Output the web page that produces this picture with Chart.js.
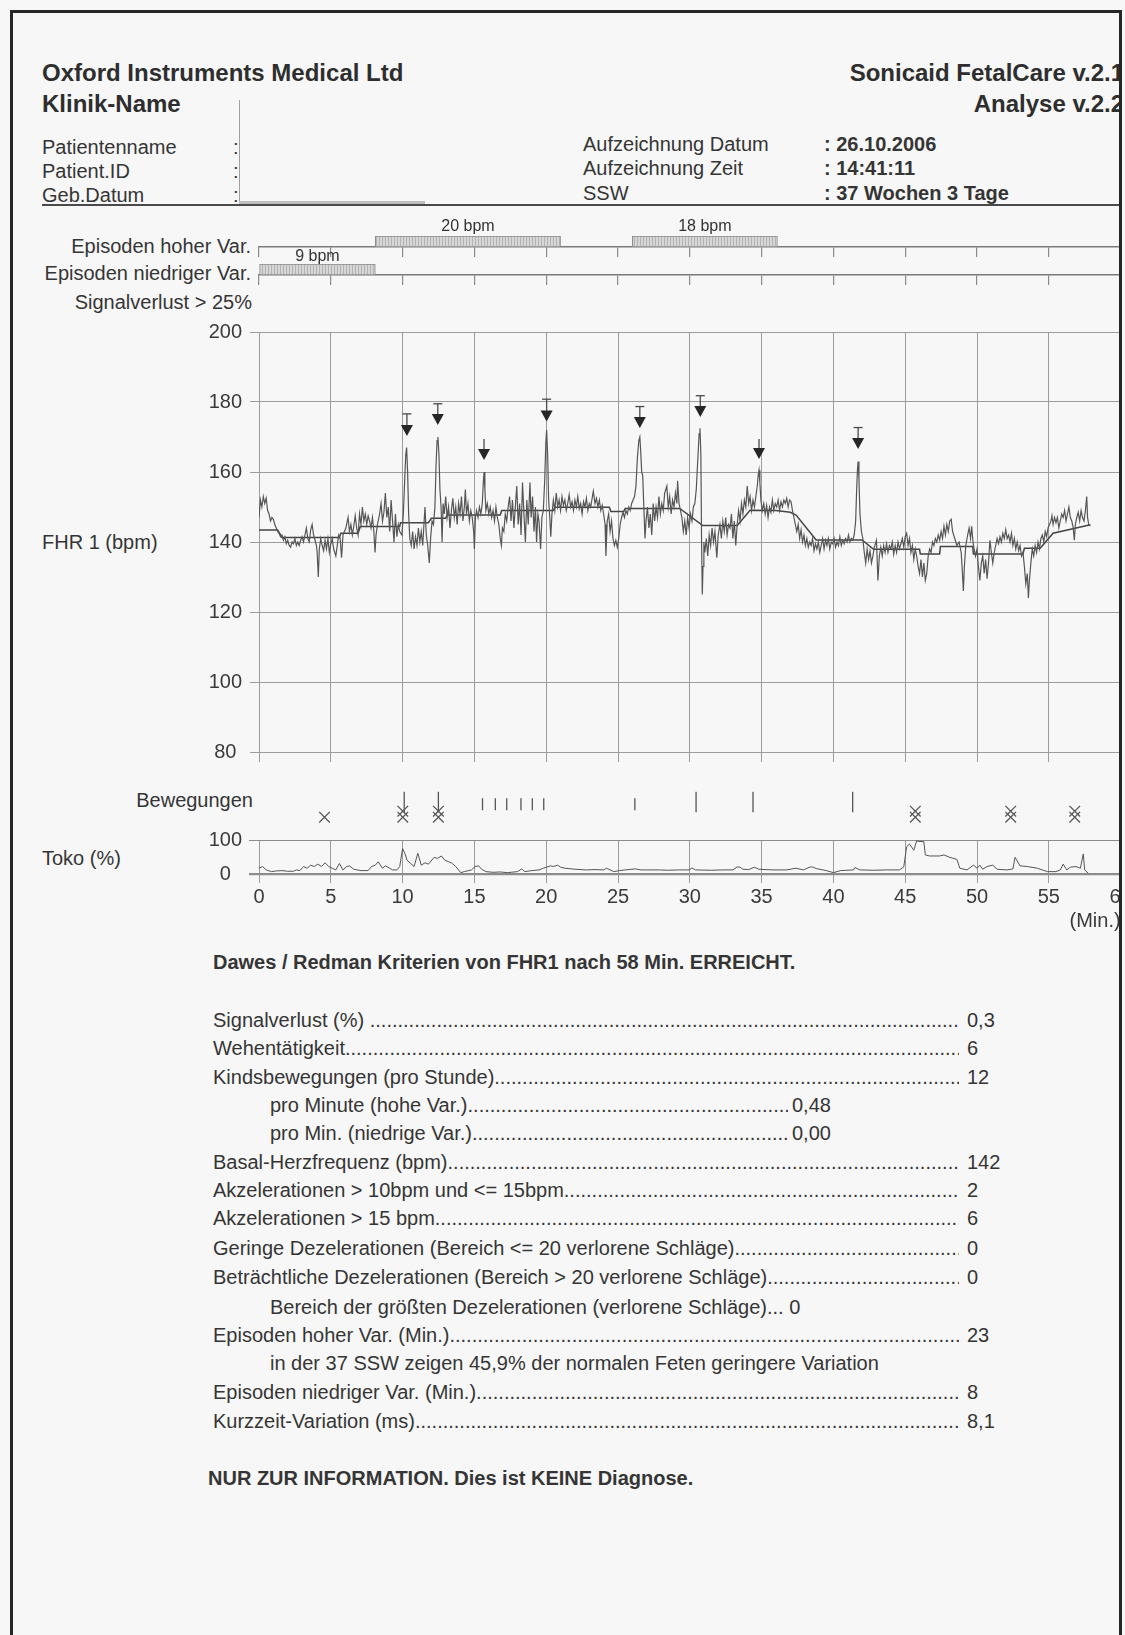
<!DOCTYPE html>
<html lang="de">
<head>
<meta charset="utf-8">
<title>Sonicaid FetalCare - Analyse</title>
<script src="https://cdn.jsdelivr.net/npm/chart.js"></script>
<style>
  html, body { margin: 0; padding: 0; background: #f7f7f7; }
  body { width: 1125px; height: 1635px; position: relative; overflow: hidden;
         font-family: 'Liberation Sans', Arial, sans-serif; color: #353535; }
  #blatt { position: absolute; left: 0; top: 0; width: 1120px; height: 1635px; overflow: hidden; }
  .t { position: absolute; white-space: nowrap; font-size: 20px; line-height: 24px; }
  .r { text-align: right; }
  .h { font-weight: bold; font-size: 24px; line-height: 28px; color: #2e2e2e; }
  .fett { font-weight: bold; }
  canvas { position: absolute; left: 0; }
  .zeile { position: absolute; display: flex; font-size: 20px; line-height: 24px; white-space: nowrap; }
  .zeile .punkte { flex: 1; overflow: hidden; }
  .zeile .wert { padding-left: 8px; width: 40px; }
  .linie { position: absolute; }
  #rahmen { position: absolute; left: 10px; top: 10px; width: 1112px; height: 1700px;
            border: 3px solid #262626; border-bottom: none; box-sizing: border-box; }
</style>
</head>
<body>
<div id="blatt">
  <div class="t h" style="left:42px;top:59px">Oxford Instruments Medical Ltd</div>
  <div class="t h" style="left:42px;top:90px">Klinik-Name</div>
  <div class="t h r" style="right:-4px;top:59px">Sonicaid FetalCare v.2.1</div>
  <div class="t h r" style="right:-4px;top:90px">Analyse v.2.2</div>

  <div class="t" style="left:42px;top:135px">Patientenname</div>
  <div class="t" style="left:42px;top:159px">Patient.ID</div>
  <div class="t" style="left:42px;top:183px">Geb.Datum</div>
  <div class="t" style="left:233px;top:135px">:</div>
  <div class="t" style="left:233px;top:159px">:</div>
  <div class="t" style="left:233px;top:183px">:</div>
  <div class="linie" style="left:239px;top:100px;width:1px;height:104px;background:#a0a0a0"></div>
  <div class="linie" style="left:239px;top:201px;width:186px;height:3px;background:#bdbdbd"></div>

  <div class="t" style="left:583px;top:132px">Aufzeichnung Datum</div>
  <div class="t" style="left:583px;top:156px">Aufzeichnung Zeit</div>
  <div class="t" style="left:583px;top:181px">SSW</div>
  <div class="t fett" style="left:824px;top:132px">: 26.10.2006</div>
  <div class="t fett" style="left:824px;top:156px">: 14:41:11</div>
  <div class="t fett" style="left:824px;top:181px">: 37 Wochen 3 Tage</div>
  <div class="linie" style="left:42px;top:204px;width:1100px;height:2px;background:#4a4a4a"></div>

  <div class="t r" style="right:869px;top:234px">Episoden hoher Var.</div>
  <div class="t r" style="right:869px;top:261px">Episoden niedriger Var.</div>
  <div class="t r" style="right:868px;top:290px">Signalverlust &gt; 25%</div>
  <div class="t" style="left:42px;top:530px">FHR 1 (bpm)</div>
  <div class="t r" style="right:867px;top:788px">Bewegungen</div>
  <div class="t" style="left:42px;top:846px">Toko (%)</div>

  <canvas id="epiHoch" width="1125" height="44" style="top:214px;width:1125px;height:44px"></canvas>
  <canvas id="epiNiedrig" width="1125" height="42" style="top:244px;width:1125px;height:42px"></canvas>
  <canvas id="fhr" width="1125" height="442" style="top:320px;width:1125px;height:442px"></canvas>
  <canvas id="bewegungen" width="1125" height="55" style="top:780px;width:1125px;height:55px"></canvas>
  <canvas id="toko" width="1125" height="107" style="top:826px;width:1125px;height:107px"></canvas>

  <div class="t fett" style="left:213px;top:950px">Dawes / Redman Kriterien von FHR1 nach 58 Min. ERREICHT.</div>

  <div class="zeile" style="left:213px;top:1008px;width:794px"><span>Signalverlust (%)&nbsp;</span><span class="punkte"></span><span class="wert">0,3</span></div>
  <div class="zeile" style="left:213px;top:1036px;width:794px"><span>Wehentätigkeit</span><span class="punkte"></span><span class="wert">6</span></div>
  <div class="zeile" style="left:213px;top:1065px;width:794px"><span>Kindsbewegungen (pro Stunde)</span><span class="punkte"></span><span class="wert">12</span></div>
  <div class="zeile" style="left:270px;top:1093px;width:562px"><span>pro Minute (hohe Var.)</span><span class="punkte"></span><span class="wert" style="padding-left:4px">0,48</span></div>
  <div class="zeile" style="left:270px;top:1121px;width:562px"><span>pro Min. (niedrige Var.)</span><span class="punkte"></span><span class="wert" style="padding-left:4px">0,00</span></div>
  <div class="zeile" style="left:213px;top:1150px;width:794px"><span>Basal-Herzfrequenz (bpm)</span><span class="punkte"></span><span class="wert">142</span></div>
  <div class="zeile" style="left:213px;top:1178px;width:794px"><span>Akzelerationen &gt; 10bpm und &lt;= 15bpm</span><span class="punkte"></span><span class="wert">2</span></div>
  <div class="zeile" style="left:213px;top:1206px;width:794px"><span>Akzelerationen &gt; 15 bpm</span><span class="punkte"></span><span class="wert">6</span></div>
  <div class="zeile" style="left:213px;top:1236px;width:794px"><span>Geringe Dezelerationen (Bereich &lt;= 20 verlorene Schläge)</span><span class="punkte"></span><span class="wert">0</span></div>
  <div class="zeile" style="left:213px;top:1265px;width:794px"><span>Beträchtliche Dezelerationen (Bereich &gt; 20 verlorene Schläge)</span><span class="punkte"></span><span class="wert">0</span></div>
  <div class="t" style="left:270px;top:1295px">Bereich der größten Dezelerationen (verlorene Schläge)... 0</div>
  <div class="zeile" style="left:213px;top:1323px;width:794px"><span>Episoden hoher Var. (Min.)</span><span class="punkte"></span><span class="wert">23</span></div>
  <div class="t" style="left:270px;top:1351px">in der 37 SSW zeigen 45,9% der normalen Feten geringere Variation</div>
  <div class="zeile" style="left:213px;top:1380px;width:794px"><span>Episoden niedriger Var. (Min.)</span><span class="punkte"></span><span class="wert">8</span></div>
  <div class="zeile" style="left:213px;top:1409px;width:794px"><span>Kurzzeit-Variation (ms)</span><span class="punkte"></span><span class="wert">8,1</span></div>

  <div class="t fett" style="left:208px;top:1466px">NUR ZUR INFORMATION. Dies ist KEINE Diagnose.</div>
</div>
<div id="rahmen"></div>

<script>
// Episoden (Minuten von-bis) und Amplitude in bpm
var episodenHoch = [[8.1, 21.0], [26.0, 36.1]];
var episodenHochBpm = [20, 18];
var episodenNiedrig = [[0, 8.1]];
var episodenNiedrigBpm = [9];

// FHR-Kurve: [Minute, bpm]
var fhrKurve = [
  [0,147],[0.1,152],[0.2,150],[0.3,153],[0.4,151],[0.5,152.5],[0.6,149],[0.7,148],[0.8,146],[0.9,147],[1.0,146.5],[1.1,145],[1.2,144],[1.3,143],[1.4,142.5],[1.5,141.5],
  [1.6,142],[1.7,140.5],[1.8,141.5],[1.9,139.5],[2.0,140.5],[2.1,139],[2.2,138.5],[2.3,140],[2.4,139.5],[2.5,141],[2.6,139],[2.7,140],[2.8,139],[2.9,140.5],[3.0,141.5],[3.1,140],[3.2,142],[3.3,144],[3.4,141],[3.5,140],[3.6,143.5],[3.7,145],[3.8,142],[3.9,140.5],
  [4.0,139],[4.05,137],[4.13,130],[4.2,138],[4.3,141],[4.4,139],[4.5,137.5],[4.6,140.5],[4.7,138],[4.8,141],[4.9,137],[5.0,139.5],[5.1,141],[5.2,138],[5.35,136],[5.45,139],[5.55,142],[5.65,141],[5.75,135.5],[5.85,142],[5.95,143],
  [6.05,144],[6.2,147],[6.3,143],[6.4,145],[6.5,142],[6.6,144.5],[6.7,147.5],[6.8,144],[6.9,142],[7.0,148],[7.1,145],
  [7.2,150],[7.3,146],[7.4,148],[7.5,145],[7.6,147.5],[7.7,146],[7.8,144],[7.9,147],[8.0,143],[8.08,137],[8.15,142],[8.25,145],
  [8.4,148],[8.5,151],[8.6,146],[8.7,148.5],[8.8,154],[8.9,147],[9.0,150],[9.1,143],[9.2,152],[9.3,146],[9.4,140],[9.5,148],[9.6,141.5],[9.7,145],[9.8,143],
  [9.95,142],[10.05,148],[10.15,158],[10.22,165],[10.28,167],[10.35,160],[10.42,148],[10.5,141],
  [10.6,139],[10.7,143],[10.8,138],[10.9,141.5],[11.0,139],[11.1,144],[11.2,140],[11.3,143],[11.4,139],[11.5,146],[11.56,150],[11.65,142],[11.75,139],[11.86,134],[11.95,141],[12.05,146],[12.15,145],
  [12.25,150],[12.33,162],[12.4,169],[12.46,170],[12.53,165],[12.6,155],[12.68,150],[12.75,140],[12.82,151],
  [12.9,148],[13.0,153],[13.1,147],[13.2,150],[13.3,144],[13.4,149],[13.5,152.5],[13.6,147],[13.7,150],[13.8,145],[13.9,151],[14.0,148],[14.1,153],[14.2,146],[14.3,150],[14.37,155],[14.45,148],[14.55,151],[14.65,146],[14.75,149],[14.85,147],
  [14.95,143],[15.0,138],[15.07,147],[15.15,149],[15.25,147],[15.35,150],[15.45,148],
  [15.55,151],[15.62,157],[15.67,160],[15.73,155],[15.8,149],[15.9,151],[16.0,148],[16.1,150],[16.2,147],[16.3,149],[16.4,146],[16.5,150],[16.6,147],[16.7,145],
  [16.8,141],[16.88,139],[16.95,144],[17.05,143],[17.15,148],[17.25,146],[17.35,150],[17.45,153],
  [17.55,146],[17.65,152],[17.75,144],[17.85,150],[17.95,156],[18.05,145],[18.15,151],[18.25,142],[18.35,157],[18.45,148],[18.55,140],[18.65,152],[18.75,145],[18.87,157],[18.95,147],[19.05,153],[19.15,143],[19.25,150],[19.33,140],[19.42,148],[19.5,146],
  [19.61,138],[19.7,147],[19.8,149],[19.9,158],[19.97,168],[20.03,172],[20.1,165],[20.17,152],[20.25,147],[20.32,141.5],[20.4,148],
  [20.5,152],[20.6,149],[20.7,154],[20.8,150],[20.9,152],[21.0,149],[21.1,153],[21.2,150.5],[21.3,152],[21.4,149],[21.5,151],[21.6,153.5],[21.7,150],[21.8,151.5],[21.9,149],[22.0,152],[22.1,150],[22.2,153],[22.3,149.5],[22.4,151],[22.5,148],[22.6,151.5],[22.7,150],[22.8,152.5],[22.9,149],[23.0,151],[23.1,150],[23.28,154.5],[23.4,151],[23.5,152.5],[23.6,150],[23.7,152],[23.8,149],[23.9,150.5],[24.0,148],
  [24.1,145],[24.16,136],[24.25,146],[24.35,148],[24.45,143],[24.55,146],[24.65,141],[24.75,139],[24.85,140.5],[24.95,138.5],[25.05,141],[25.15,145],[25.25,147],[25.35,148.5],[25.45,147],[25.55,149],[25.65,148],[25.75,150],[25.85,149],[25.95,151],[26.05,152],[26.15,153],
  [26.25,156],[26.35,164],[26.45,169],[26.52,170],[26.58,166],[26.65,160],[26.72,159],[26.8,150],[26.88,141],[26.95,146],
  [27.05,150],[27.15,144],[27.25,148],[27.35,142],[27.45,151],[27.55,146],[27.65,150],[27.75,147],[27.85,153],[27.95,148],[28.05,151],[28.15,149],[28.25,154],[28.4,156],[28.5,150],[28.6,153],[28.7,148],[28.8,152],[28.9,150],[29.0,154],[29.1,151],[29.15,157.5],[29.25,151],[29.35,149],
  [29.45,147],[29.55,143],[29.65,146],[29.75,142],[29.85,147],[29.95,144],[30.05,148],[30.15,146],[30.25,150],[30.35,151],
  [30.45,155],[30.55,163],[30.65,171],[30.71,172.5],[30.77,165],[30.82,140],[30.87,125],[30.92,133],[30.98,140],
  [31.05,137],[31.15,141],[31.25,136],[31.35,142],[31.45,139],[31.55,144],[31.65,140],[31.75,143],[31.88,135.5],[31.98,142],[32.1,145],[32.2,141],[32.3,146],[32.4,143],[32.5,147],[32.6,142],[32.7,145],[32.8,144],[32.9,148],[33.0,141],[33.1,146],[33.2,139],[33.3,145],
  [33.4,149],[33.5,146],[33.6,151],[33.7,148],[33.8,152],[33.9,150],[34.0,156],[34.1,151],[34.2,153],[34.3,149],[34.4,152],[34.5,150],[34.6,153],
  [34.7,156],[34.76,159],[34.82,160.5],[34.88,157],[34.95,152],[35.05,149],
  [35.15,151],[35.25,148],[35.35,150.5],[35.45,147],[35.55,150],[35.65,148.5],[35.75,152],[35.85,149],[35.95,151],[36.05,150],[36.15,152],[36.25,149],[36.35,151.5],[36.45,150],[36.55,152],[36.65,151],[36.75,152.5],[36.85,150],[36.95,152],[37.05,151.5],[37.15,149],
  [37.25,147],[37.35,145],[37.45,143],[37.55,145],[37.65,141],[37.75,143.5],[37.85,140],[37.95,142],[38.05,139],[38.15,141],[38.25,138.5],[38.35,140],[38.45,139],[38.55,141],[38.65,137.5],[38.75,139.5],
  [38.85,138],[38.95,140],[39.05,137],[39.15,139],[39.25,141],[39.35,138],[39.45,140.5],[39.55,139],[39.65,141],[39.75,138],[39.85,140],[39.95,139.5],[40.05,141],[40.15,138.5],[40.25,140],[40.35,139],[40.45,141.5],[40.55,139],[40.65,140.5],[40.75,139.5],[40.85,141],[40.95,140],[41.05,142],[41.15,140],[41.25,141],[41.35,140.5],[41.45,142],
  [41.55,146],[41.62,155],[41.68,161],[41.72,163],[41.78,158],[41.85,148],[41.95,143],[42.05,141],
  [42.15,137],[42.25,134],[42.35,138],[42.45,135],[42.55,137.5],[42.65,134],[42.75,136],[42.85,138.5],[43.0,140.5],[43.1,129],[43.2,136],[43.3,138.5],[43.4,136],[43.5,139],[43.6,137],[43.7,139.5],[43.8,137],[43.9,139],[44.0,138],[44.1,140],[44.2,136.5],[44.3,139],[44.4,137],[44.5,140],[44.6,138],[44.7,139.5],[44.8,141],[44.9,138.5],[45.0,141.5],[45.1,142.5],
  [45.2,139],[45.3,141],[45.4,137],[45.5,139],[45.6,135],[45.7,138],[45.8,136],[45.9,133],[46.0,131],[46.1,135],[46.2,130],[46.3,134],[46.4,129],[46.5,131],[46.6,136],
  [46.7,138],[46.8,137],[46.9,140],[47.0,139],[47.1,141],[47.2,140],[47.3,142],[47.4,140.5],[47.5,143],[47.6,141],[47.7,144.5],[47.8,142],[47.9,145],[48.0,143],[48.1,146],[48.2,146.5],[48.3,143],
  [48.45,141],[48.6,139],[48.75,140],[48.9,137],[49.0,130],[49.05,126],[49.12,133],[49.22,139],[49.35,142],[49.45,144],[49.55,141],[49.63,144.5],[49.72,140],
  [49.8,138],[49.9,136],[50.0,138],[50.1,133],[50.2,129],[50.3,134],[50.4,136],[50.5,131],[50.6,135],[50.7,129.5],[50.8,134],[50.9,140.5],[51.0,137],[51.1,134],[51.2,137],
  [51.3,139],[51.4,141],[51.5,139.5],[51.6,141.5],[51.7,140],[51.8,142.5],[51.9,141],[52.0,143.5],[52.1,141],[52.2,142],[52.3,140],[52.4,142.5],[52.5,139],[52.6,141],[52.7,138],[52.8,140],[52.9,137.5],[53.0,139],[53.1,136],
  [53.2,137],[53.3,133],[53.4,128],[53.5,131],[53.58,124],[53.65,129],[53.75,134],[53.85,138],[53.95,136],[54.05,139],[54.15,137],[54.25,140],[54.35,138],[54.45,141],
  [54.55,142],[54.65,140],[54.75,143],[54.85,141.5],[54.95,144],[55.05,145],[55.15,146],[55.22,147.5],[55.3,145],[55.4,147],[55.5,145.5],[55.6,147],[55.7,144],[55.8,146],[55.9,148],[56.0,147],[56.1,149],[56.2,146],[56.3,148],[56.4,150],[56.5,147],[56.6,146],[56.7,144],[56.78,140.5],[56.85,145],[56.95,147],[57.05,148.5],[57.15,146],[57.25,149],[57.35,147],[57.45,146],[57.55,149],[57.64,153],[57.7,147],[57.78,145],[57.87,144.5]
];

// geglättete Basallinie: [Minute, bpm]
var basalLinie = [
  [0,143.4],[1.3,143.4],[1.6,141.3],[5.6,141.3],[5.7,142.5],[6.9,142.5],[7.05,144.4],[9.8,144.4],[9.85,145.5],[11.8,145.5],[12.0,146.8],[13.0,146.8],
  [13.1,147.7],[16.8,147.7],[16.9,149],[20.5,149],[20.6,149.9],[24.4,149.9],[24.5,148.7],[25.4,148.7],[25.5,149.6],[29.3,149.6],[30.9,144.7],[33.3,144.7],
  [34.2,149.1],[36.0,149],[37.0,148.5],[37.4,147.7],[38.8,140.6],[42.0,140.6],[42.8,137.9],[46.0,137.9],[46.05,136.6],[47.4,136.6],[47.45,138.7],[49.7,138.7],
  [49.75,136.6],[53.2,136.6],[53.3,138.2],[54.4,138.2],[55.3,142.5],[57.9,144.9]
];

// Akzelerationen: Zeit, Pfeilspitze, oberes Ende der Markierung (bpm), Klasse
var akzelZeit = [10.3, 12.45, 15.67, 20.03, 26.52, 30.73, 34.82, 41.72];
var akzelSpitze = [170.3, 173.4, 163.4, 174.4, 172.6, 175.7, 163.7, 166.6];
var akzelOben = [176.6, 179.5, 169.4, 180.8, 178.7, 181.8, 169.4, 172.7];
var akzelKlasse = ['>15', '>15', '10-15', '>15', '>15', '>15', '10-15', '>15'];

// Kindsbewegungen (Minuten) und Markierungen
var bewegungenLang = [10.2, 12.6, 30.7, 34.7, 41.7];
var bewegungenKurz = [15.7, 16.6, 17.4, 18.4, 19.2, 20.0, 26.4];
var kreuzDoppelt = [10.1, 12.6, 46.1, 52.8, 57.3];
var kreuzEinzeln = [4.6];

// Tokogramm: [Minute, %]
var tokoKurve = [
  [0,17],[0.25,22],[0.5,12],[0.87,7],[1.2,9],[1.6,10],[2.0,8],[2.4,8],[2.6,12],[2.85,10],[3.1,22],[3.35,17],[3.6,26],[3.85,22],[4.1,29],[4.35,22],[4.6,33],[4.85,22],[5.1,17],[5.35,12],[5.6,31],[5.84,12],[6.1,22],[6.3,24],[6.6,14],[7.1,10],[7.6,10],[7.83,22],[8.1,26],[8.3,36],[8.6,17],[8.8,24],[9.1,17],[9.3,12],[9.6,12],[9.8,22],
  [10.0,75],[10.2,56],[10.3,41],[10.56,31],[10.8,22],[11.06,61],[11.3,26],[11.56,33],[11.8,29],[12.2,49],[12.43,46],[12.7,53],[12.93,41],[13.2,36],[13.4,33],[13.7,22],[14.05,4],[14.3,7],[14.8,12],[15.05,22],[15.3,24],[15.5,14],[15.8,7],[16.3,5],[16.8,6],[17.3,4],[18.0,7],[18.3,15],[18.5,7],[19.0,10],[19.5,12],[19.8,17],
  [20.3,24],[20.5,22],[20.8,26],[21.0,20],[21.3,17],[22.0,14],[22.8,12],[23.4,13],[24.0,12],[24.2,17],[24.7,7],[25.1,10],[25.5,12],[26.2,15],[26.6,12],[27.0,12],[27.9,12],[28.5,11],[29.2,12],
  [30.0,12],[30.13,18],[30.4,12],[31.5,11],[32.3,12],[33.0,12],[33.3,21],[33.5,20],[33.7,14],[34.1,13],[34.5,20],[34.8,14],[35.8,12],[36.75,12],[37.4,17],[37.9,12],[38.4,21],[38.6,20],[38.8,16],[39.5,10],[40.0,4],[40.5,10],[41.4,12],[41.5,19],[41.85,12],[42.8,11],[43.7,12],[44.6,12],[44.9,21],
  [45.1,80],[45.3,88],[45.6,70],[45.8,98],[45.9,96],[46.3,95],[46.4,56],[46.7,53],[47.4,53],[47.7,56],[48.1,49],[48.6,43],[48.8,17],[49.3,12],[49.75,26],[50.0,17],[50.2,26],[50.4,14],[50.7,22],[51.1,26],[51.4,14],[52.1,12],[52.5,15],[52.65,49],[53.0,24],[53.5,22],[54.2,17],[54.9,7],[55.5,7],[55.8,12],[56.0,29],[56.25,12],[56.5,20],[56.9,22],[57.2,17],[57.4,59],[57.5,12],[57.75,2]
];

Chart.defaults.font.family = "'Liberation Sans', Arial, sans-serif";
Chart.defaults.color = '#3a3a3a';

var gitterFarbe = '#9c9c9c';
var kurvenFarbe = '#555555';
var achseLinks = 259;      // linke Kante der Diagramme
var randRechts = 4.4;      // Abstand rechts bis zum Blattrand

function xy(punkte) {
  return punkte.map(function(p) { return { x: p[0], y: p[1] }; });
}

// Schraffur für die Episodenbalken
function schraffur() {
  var c = document.createElement('canvas');
  c.width = 3; c.height = 3;
  var g = c.getContext('2d');
  g.fillStyle = '#d6d6d6';
  g.fillRect(0, 0, 3, 3);
  g.fillStyle = '#b4b4b4';
  g.fillRect(1, 0, 1, 3);
  return g.createPattern(c, 'repeat');
}

var bpmBeschriftung = {
  id: 'bpmBeschriftung',
  afterDatasetsDraw: function(chart, args, opts) {
    var ctx = chart.ctx;
    var meta = chart.getDatasetMeta(0);
    ctx.save();
    ctx.font = "16px 'Liberation Sans', Arial, sans-serif";
    ctx.fillStyle = '#333';
    ctx.textAlign = 'center';
    ctx.textBaseline = 'middle';
    meta.data.forEach(function(bar, i) {
      var p = bar.getProps(['x', 'y', 'base', 'height'], true);
      ctx.fillText(opts.werte[i] + ' bpm', (p.x + p.base) / 2, p.y - p.height / 2 - opts.abstand);
    });
    ctx.restore();
  }
};

function episodenChart(id, episoden, bpm, abstand, oben) {
  return new Chart(document.getElementById(id), {
    type: 'bar',
    data: {
      labels: ['e'],
      datasets: [{
        data: episoden.map(function(e) { return { x: [e[0], e[1]], y: 'e' }; }),
        backgroundColor: schraffur(),
        borderColor: '#8a8a8a',
        borderWidth: 1,
        borderSkipped: false,
        barPercentage: 1,
        categoryPercentage: 1
      }]
    },
    options: {
      indexAxis: 'y',
      responsive: false,
      animation: false,
      events: [],
      layout: { padding: { left: achseLinks, right: randRechts, top: oben, bottom: 0 } },
      plugins: {
        legend: { display: false },
        tooltip: { enabled: false },
        bpmBeschriftung: { werte: bpm, abstand: abstand }
      },
      scales: {
        x: {
          type: 'linear', min: 0, max: 60,
          ticks: { display: false, stepSize: 5 },
          grid: { drawOnChartArea: false, tickLength: 10, color: '#8a8a8a', lineWidth: 1.2 },
          border: { display: true, color: '#7a7a7a', width: 1.5 },
          afterFit: function(s) { s.height = 11; s.paddingLeft = 0; s.paddingRight = 0; }
        },
        y: { type: 'category', display: false }
      }
    },
    plugins: [bpmBeschriftung]
  });
}

episodenChart('epiHoch', episodenHoch, episodenHochBpm, 9, 22);
episodenChart('epiNiedrig', episodenNiedrig, episodenNiedrigBpm, 7, 20);

// Pfeile über den Akzelerationen
var akzelPfeile = {
  id: 'akzelPfeile',
  afterDatasetsDraw: function(chart) {
    var ctx = chart.ctx, sx = chart.scales.x, sy = chart.scales.y;
    ctx.save();
    ctx.fillStyle = '#262626';
    ctx.strokeStyle = '#4a4a4a';
    ctx.lineWidth = 1.3;
    akzelZeit.forEach(function(t, i) {
      var px = sx.getPixelForValue(t);
      var spitze = sy.getPixelForValue(akzelSpitze[i]);
      var ende = sy.getPixelForValue(akzelOben[i]);
      ctx.beginPath();
      ctx.moveTo(px, spitze - 11);
      ctx.lineTo(px, ende);
      ctx.stroke();
      if (akzelKlasse[i] === '>15') {
        ctx.beginPath();
        ctx.moveTo(px - 4.5, ende);
        ctx.lineTo(px + 4.5, ende);
        ctx.stroke();
      }
      ctx.beginPath();
      ctx.moveTo(px - 6, spitze - 11);
      ctx.lineTo(px + 6, spitze - 11);
      ctx.lineTo(px, spitze);
      ctx.closePath();
      ctx.fill();
    });
    ctx.restore();
  }
};

new Chart(document.getElementById('fhr'), {
  type: 'line',
  data: {
    datasets: [
      { data: xy(fhrKurve), borderColor: kurvenFarbe, borderWidth: 1.2, pointRadius: 0, tension: 0 },
      { data: xy(basalLinie), borderColor: '#444', borderWidth: 1.5, pointRadius: 0, tension: 0 }
    ]
  },
  options: {
    responsive: false,
    animation: false,
    events: [],
    layout: { padding: { left: 0, right: randRechts, top: 12, bottom: 0 } },
    plugins: { legend: { display: false }, tooltip: { enabled: false } },
    scales: {
      x: {
        type: 'linear', min: 0, max: 60,
        ticks: { display: false, stepSize: 5 },
        grid: { color: gitterFarbe, tickLength: 10 },
        border: { display: false },
        afterFit: function(s) { s.height = 10; s.paddingLeft = 0; s.paddingRight = 0; }
      },
      y: {
        min: 80, max: 200,
        ticks: { stepSize: 20, padding: 8, crossAlign: 'center', font: { size: 20 } },
        grid: { color: gitterFarbe, tickLength: 9 },
        border: { display: false },
        afterFit: function(s) { s.width = achseLinks; s.paddingTop = 0; s.paddingBottom = 0; }
      }
    }
  },
  plugins: [akzelPfeile]
});

new Chart(document.getElementById('bewegungen'), {
  type: 'scatter',
  data: {
    datasets: [
      { data: bewegungenLang.map(function(t) { return { x: t, y: 17.5 }; }),
        pointStyle: 'line', pointRotation: 90, pointRadius: 10.5, pointBorderColor: '#555', pointBorderWidth: 1.3 },
      { data: bewegungenKurz.map(function(t) { return { x: t, y: 22 }; }),
        pointStyle: 'line', pointRotation: 90, pointRadius: 6, pointBorderColor: '#555', pointBorderWidth: 1.3 },
      { data: kreuzDoppelt.map(function(t) { return { x: t, y: 34 }; }),
        pointStyle: 'crossRot', pointRadius: 7.5, pointBorderColor: '#555', pointBorderWidth: 1.3 },
      { data: kreuzDoppelt.concat(kreuzEinzeln).map(function(t) { return { x: t, y: 44.5 }; }),
        pointStyle: 'crossRot', pointRadius: 7.5, pointBorderColor: '#555', pointBorderWidth: 1.3 }
    ]
  },
  options: {
    responsive: false,
    animation: false,
    events: [],
    layout: { padding: { left: achseLinks, right: randRechts, top: 0, bottom: 0 } },
    plugins: { legend: { display: false }, tooltip: { enabled: false } },
    scales: {
      x: { type: 'linear', min: 0, max: 60, display: false },
      y: { min: 0, max: 55, reverse: true, display: false }
    }
  }
});

new Chart(document.getElementById('toko'), {
  type: 'line',
  data: {
    datasets: [
      { data: xy(tokoKurve), borderColor: kurvenFarbe, borderWidth: 1, pointRadius: 0, tension: 0 }
    ]
  },
  options: {
    responsive: false,
    animation: false,
    events: [],
    layout: { padding: { left: 0, right: randRechts, top: 14, bottom: 0 } },
    plugins: { legend: { display: false }, tooltip: { enabled: false } },
    scales: {
      x: {
        type: 'linear', min: 0, max: 60,
        ticks: { stepSize: 5, padding: 2, autoSkip: false, maxRotation: 0, font: { size: 20 } },
        grid: { color: gitterFarbe, tickLength: 9 },
        border: { display: false },
        title: { display: true, text: '(Min.)', align: 'end', padding: 0, font: { size: 20 } },
        afterFit: function(s) { s.height = 59; s.paddingLeft = 0; s.paddingRight = 0; }
      },
      y: {
        min: 0, max: 100,
        ticks: {
          stepSize: 50, padding: 7, crossAlign: 'center', font: { size: 20 },
          callback: function(v) { return v === 50 ? '' : v; }
        },
        grid: {
          color: '#8c8c8c', tickLength: 10,
          lineWidth: function(c) { return c.tick && c.tick.value === 0 ? 2.2 : 1; }
        },
        border: { display: false },
        afterFit: function(s) { s.width = achseLinks; s.paddingTop = 0; s.paddingBottom = 0; }
      }
    }
  }
});

// Punktlinien in der Ergebnistabelle
document.querySelectorAll('.punkte').forEach(function(el) {
  el.textContent = new Array(200).join('.');
});
</script>
</body>
</html>
